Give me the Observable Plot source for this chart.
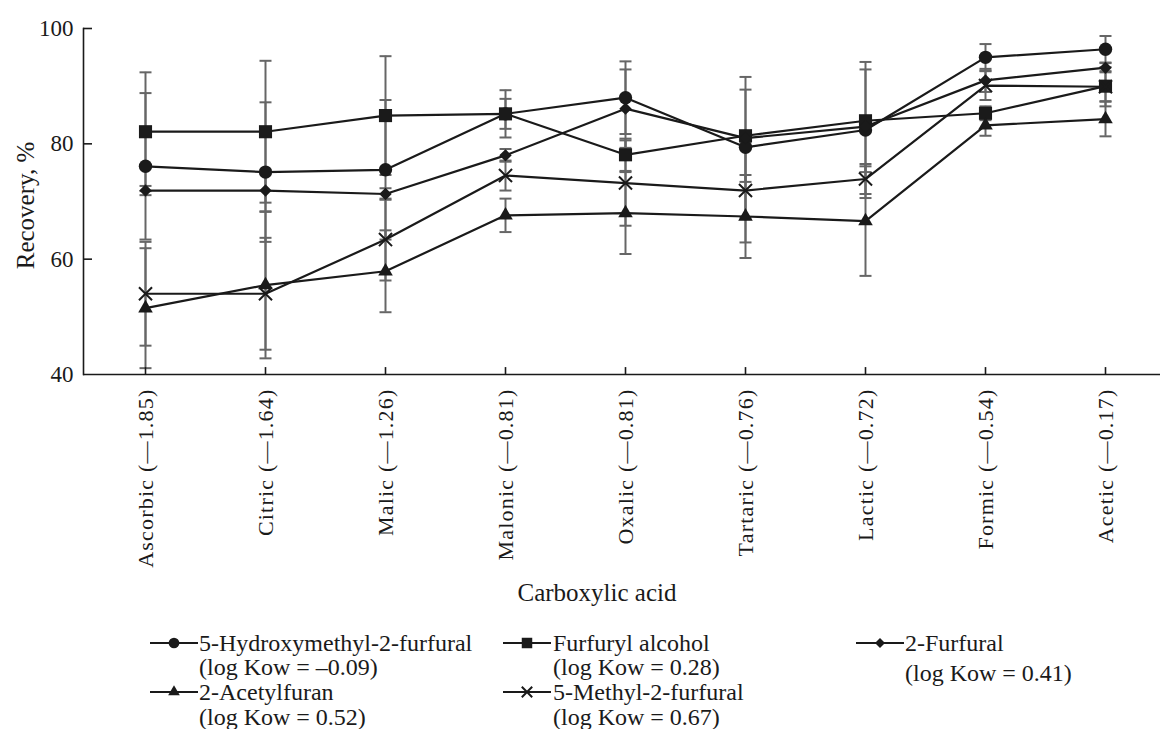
<!DOCTYPE html>
<html>
<head>
<meta charset="utf-8">
<script src="https://cdn.jsdelivr.net/npm/d3@7"></script>
<script src="https://cdn.jsdelivr.net/npm/@observablehq/plot@0.6"></script>
<style>
  html, body { margin: 0; padding: 0; background: #fff; }
  #wrap { position: relative; width: 1160px; height: 729px; overflow: hidden; font-family: "Liberation Serif", "Times New Roman", serif; color: #1a1a1a; }
  #chart { position: absolute; left: 0; top: 0; }
  g[aria-label="x-axis tick label"] text { letter-spacing: 1.2px; }
  .leg { position: absolute; font-size: 24px; line-height: 25px; white-space: nowrap; }
  .sw { position: absolute; }
</style>
</head>
<body>
<div id="wrap"><div id="chart"></div></div>
<script>
// ---- data ----
const acids = ["Ascorbic", "Citric", "Malic", "Malonic", "Oxalic", "Tartaric", "Lactic", "Formic", "Acetic"];
const acidLabels = ["Ascorbic (—1.85)", "Citric (—1.64)", "Malic (—1.26)", "Malonic (—0.81)", "Oxalic (—0.81)", "Tartaric (—0.76)", "Lactic (—0.72)", "Formic (—0.54)", "Acetic (—0.17)"];
const yTicks = [40, 60, 80, 100];

const seriesNames = ["5-Hydroxymethyl-2-furfural", "Furfuryl alcohol", "2-Furfural", "2-Acetylfuran", "5-Methyl-2-furfural"];
const seriesKow = ["(log Kow = –0.09)", "(log Kow = 0.28)", "(log Kow = 0.41)", "(log Kow = 0.52)", "(log Kow = 0.67)"];
const seriesSymbols = ["circle", "square", "diamond2", "triangle", "times"];

const hmf      = [76.1, 75.1, 75.5, 85.2, 88.0, 79.4, 82.4, 95.0, 96.4];
const hmfErr   = [12.7, 12.1, 12.1, 2.6, 6.3, 12.2, 11.8, 2.3, 2.3];
const fa       = [82.1, 82.1, 84.9, 85.2, 78.1, 81.4, 84.0, 85.3, 90.0];
const faErr    = [10.3, 12.3, 10.3, 4.1, 2.8, 8.0, 8.9, 1.2, 2.6];
const furf     = [71.9, 71.9, 71.3, 78.0, 86.1, 81.0, 83.0, 91.0, 93.2];
const furfErr  = [0.8, 3.6, 1.0, 1.1, 6.8, 0.8, 0.8, 2.0, 0.8];
const acf      = [51.5, 55.5, 57.9, 67.6, 68.0, 67.4, 66.6, 83.2, 84.3];
const acfErr   = [10.4, 12.7, 7.1, 2.9, 7.1, 7.2, 9.5, 1.8, 3.0];
const mf       = [54.0, 54.0, 63.4, 74.5, 73.2, 71.9, 73.9, 90.1, 89.9];
const mfErr    = [9.0, 9.7, 7.1, 2.6, 7.4, 9.0, 2.6, 2.5, 3.4];

const seriesValues = [hmf, fa, furf, acf, mf];
const seriesErrors = [hmfErr, faErr, furfErr, acfErr, mfErr];

// ---- build table ----
const rows = [];
seriesNames.forEach((name, si) => {
  acids.forEach((acid, ai) => {
    const v = seriesValues[si][ai], e = seriesErrors[si][ai];
    rows.push({series: name, acid, value: v, lo: v - e, hi: v + e});
  });
});
const caps = rows.flatMap(d => [{acid: d.acid, y: d.lo}, {acid: d.acid, y: d.hi}]);
const labelOf = new Map(acids.map((a, i) => [a, acidLabels[i]]));

const capSymbol = { draw(ctx) { ctx.moveTo(-6, 0); ctx.lineTo(6, 0); } };
const ink = "#1a1a1a";
const markerR = {circle: 6.7, square: 7.4, diamond2: 5.6, triangle: 5.4, times: 6};

const dotMarks = seriesNames.map((name, si) => {
  const sym = seriesSymbols[si];
  const isStroke = sym === "times";
  return Plot.dot(rows.filter(d => d.series === name), {
    x: "acid", y: "value", symbol: () => sym, r: markerR[sym],
    fill: isStroke ? "none" : ink, stroke: isStroke ? ink : "none", strokeWidth: isStroke ? 2 : 0
  });
});

const chart = Plot.plot({
  width: 1160, height: 622,
  marginLeft: 83, marginRight: 0, marginTop: 28, marginBottom: 248,
  style: {fontFamily: "'Liberation Serif', 'Times New Roman', serif", background: "transparent", color: ink, overflow: "visible"},
  x: {type: "point", domain: acids, range: [142.3, 1108.3], padding: 0},
  y: {domain: [40, 100], range: [374, 28]},
  symbol: {type: "identity"},
  marks: [
    Plot.ruleX(rows, {x: "acid", y1: "lo", y2: "hi", stroke: "#666", strokeWidth: 2}),
    Plot.dot(caps, {x: "acid", y: "y", symbol: () => capSymbol, r: 6, stroke: "#666", strokeWidth: 2, fill: "none"}),
    Plot.line(rows, {x: "acid", y: "value", z: "series", stroke: ink, strokeWidth: 2.2}),
    ...dotMarks,
    Plot.ruleY([40], {stroke: ink, strokeWidth: 1.6}),
    Plot.frame({anchor: "left", stroke: ink, strokeWidth: 1.6}),
    Plot.ruleY(yTicks.slice(1), {insetRight: 1160 - 83 - 9, stroke: ink, strokeWidth: 1.6}),
    Plot.ruleX(acids, {y1: 40, y2: 41.2, stroke: ink, strokeWidth: 1.6}),
    Plot.axisY({ticks: yTicks, tickSize: 0, tickPadding: 10, fontSize: 23, label: null}),
    Plot.axisX({tickSize: 0, tickRotate: -90, tickPadding: 14, fontSize: 22, label: null, tickFormat: d => labelOf.get(d)}),
    Plot.text(["Recovery, %"], {frameAnchor: "left", textAnchor: "middle", dx: -58, dy: 4, rotate: -90, fontSize: 25}),
    Plot.text(["Carboxylic acid"], {frameAnchor: "bottom", dx: -25, dy: 226, fontSize: 25})
  ]
});
document.getElementById("chart").appendChild(chart);

// ---- legend (HTML) ----
const wrap = document.getElementById("wrap");
const legendPos = [
  {sw: 150, tx: 199, y1: 643, y2: 667, x2: 199},
  {sw: 503, tx: 553, y1: 643, y2: 667, x2: 553},
  {sw: 856, tx: 905, y1: 643, y2: 673, x2: 905},
  {sw: 150, tx: 199, y1: 692, y2: 717, x2: 199},
  {sw: 503, tx: 553, y1: 692, y2: 717, x2: 553}
];
const d3Sym = {circle: d3.symbolCircle, square: d3.symbolSquare, diamond2: d3.symbolDiamond2, triangle: d3.symbolTriangle, times: d3.symbolTimes};
seriesNames.forEach((name, i) => {
  const p = legendPos[i];
  const sym = seriesSymbols[i];
  const size = Math.PI * Math.pow(markerR[sym] * 0.8, 2);
  const path = d3.symbol(d3Sym[sym], size)();
  const isStroke = sym === "times";
  const sw = document.createElementNS("http://www.w3.org/2000/svg", "svg");
  sw.setAttribute("class", "sw");
  sw.setAttribute("width", 48); sw.setAttribute("height", 16);
  sw.style.left = p.sw + "px"; sw.style.top = (p.y1 - 8) + "px";
  sw.innerHTML = `<line x1="0" x2="48" y1="8" y2="8" stroke="${ink}" stroke-width="2"/>` +
    `<path transform="translate(24,8)" d="${path}" fill="${isStroke ? "none" : ink}" stroke="${isStroke ? ink : "none"}" stroke-width="2"/>`;
  wrap.appendChild(sw);
  const t1 = document.createElement("div");
  t1.className = "leg"; t1.textContent = name;
  t1.style.left = p.tx + "px"; t1.style.top = (p.y1 - 12.5) + "px";
  wrap.appendChild(t1);
  const t2 = document.createElement("div");
  t2.className = "leg"; t2.textContent = seriesKow[i];
  t2.style.left = p.x2 + "px"; t2.style.top = (p.y2 - 12.5) + "px";
  wrap.appendChild(t2);
});
</script>
</body>
</html>
